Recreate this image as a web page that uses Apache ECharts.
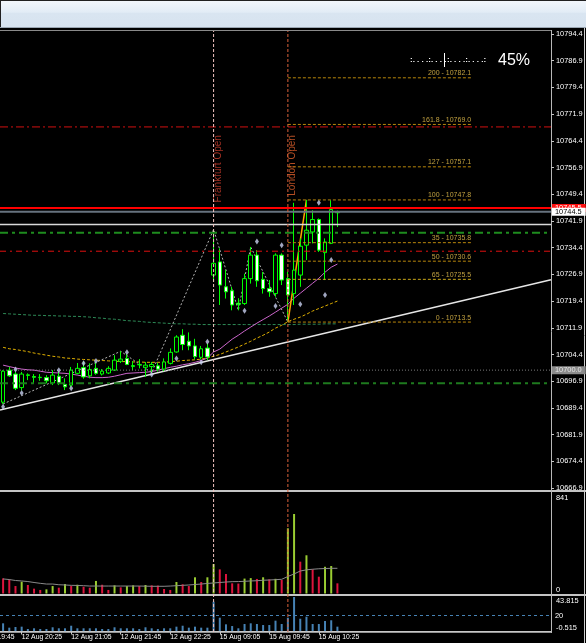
<!DOCTYPE html>
<html><head><meta charset="utf-8">
<script src="https://cdn.jsdelivr.net/npm/echarts@6/dist/echarts.min.js"></script>
<style>html,body{margin:0;padding:0;background:#000;overflow:hidden}#c{width:586px;height:643px;}</style>
</head><body><div id="c"></div>
<script>
// ---------------- DATA ----------------
const barTimes = [
 '12 Aug 20:10','12 Aug 20:15','12 Aug 20:20','12 Aug 20:25','12 Aug 20:30','12 Aug 20:35','12 Aug 20:40','12 Aug 20:45','12 Aug 20:50','12 Aug 20:55',
 '12 Aug 21:00','12 Aug 21:05','12 Aug 21:10','12 Aug 21:15','12 Aug 21:20','12 Aug 21:25','12 Aug 21:30','12 Aug 21:35','12 Aug 21:40','12 Aug 21:45',
 '12 Aug 21:50','12 Aug 21:55','12 Aug 22:00','12 Aug 22:05','12 Aug 22:10','12 Aug 22:15','12 Aug 22:20','12 Aug 22:25','12 Aug 22:30','12 Aug 22:35',
 '12 Aug 22:40','12 Aug 22:45','12 Aug 22:50','12 Aug 22:55',
 '15 Aug 09:00','15 Aug 09:05','15 Aug 09:10','15 Aug 09:15','15 Aug 09:20','15 Aug 09:25','15 Aug 09:30','15 Aug 09:35','15 Aug 09:40','15 Aug 09:45',
 '15 Aug 09:50','15 Aug 09:55','15 Aug 10:00','15 Aug 10:05','15 Aug 10:10','15 Aug 10:15','15 Aug 10:20','15 Aug 10:25','15 Aug 10:30','15 Aug 10:35','15 Aug 10:40'
];
const emptySlots = 34;   // empty space to the right of the last bar
const openP  = [10691.0,10700.0,10698.9,10695.1,10698.5,10698.2,10697.9,10697.9,10696.4,10698.3,
 10696.0,10695.8,10699.1,10700.7,10698.4,10700.5,10698.9,10699.2,10700.0,10702.5,
 10703.3,10701.0,10701.6,10700.8,10701.0,10701.2,10700.3,10701.9,10705.1,10709.8,
 10708.1,10706.8,10703.6,10706.2,10726.7,10730.4,10723.4,10722.3,10718.8,10718.7,
 10725.7,10732.3,10725.5,10722.9,10721.5,10732.3,10725.7,10721.5,10726.7,10735.1,
 10738.8,10742.3,10733.0,10735.6,10744.2];
const highP  = [10700.0,10700.9,10699.5,10699.5,10699.1,10698.9,10698.9,10698.6,10700.0,10699.6,
 10697.7,10700.9,10702.0,10702.5,10701.9,10702.2,10700.3,10701.1,10704.2,10705.3,
 10704.5,10702.5,10703.1,10702.3,10702.3,10702.0,10703.3,10706.1,10709.8,10711.5,
 10710.6,10708.8,10706.8,10707.5,10739.5,10734.2,10728.1,10723.4,10720.2,10727.1,
 10734.6,10733.7,10727.6,10725.3,10732.8,10732.8,10727.6,10747.0,10737.0,10747.8,
 10744.9,10742.6,10737.0,10747.7,10744.8];
const lowP   = [10690.5,10698.1,10694.4,10694.3,10697.2,10696.3,10697.0,10696.3,10695.8,10695.8,
 10694.4,10695.3,10698.8,10697.6,10697.7,10698.7,10698.5,10698.9,10699.8,10702.0,
 10701.4,10700.0,10700.5,10698.1,10699.3,10699.6,10699.7,10701.6,10704.9,10705.6,
 10705.6,10703.0,10703.0,10702.8,10724.8,10718.3,10720.1,10716.8,10716.8,10718.3,
 10724.3,10723.4,10721.5,10720.6,10720.6,10723.9,10713.5,10718.3,10723.4,10730.9,
 10735.6,10733.2,10725.3,10735.4,10740.2];
const closeP = [10699.7,10698.4,10694.9,10698.9,10698.7,10698.0,10698.0,10697.0,10698.6,10696.3,
 10695.3,10700.0,10700.5,10698.1,10700.2,10699.1,10699.7,10700.5,10702.8,10703.1,
 10701.6,10701.3,10701.5,10701.4,10701.6,10700.3,10702.3,10705.0,10709.3,10707.2,
 10706.8,10703.8,10706.0,10703.7,10730.0,10723.9,10722.0,10718.3,10718.5,10725.7,
 10732.3,10725.1,10722.9,10722.0,10732.3,10725.3,10721.1,10728.1,10734.8,10739.3,
 10742.3,10733.7,10736.0,10745.1,10744.5];
const maViolet = [10701.4,10701.0,10700.6,10700.3,10700.1,10700.0,10699.7,10699.4,10699.3,10699.2,
 10699.1,10698.9,10698.6,10698.3,10698.0,10697.9,10697.9,10698.0,10698.3,10698.7,
 10699.1,10699.2,10699.3,10699.4,10699.6,10700.0,10700.4,10700.8,10701.1,10701.5,
 10701.8,10702.2,10702.7,10703.4,10705.1,10705.9,10707.3,10708.7,10709.8,10711.0,
 10712.1,10713.2,10714.2,10715.2,10716.3,10717.4,10718.5,10720.2,10721.6,10723.0,
 10724.4,10725.8,10727.5,10728.9,10729.8];
const maYellow = [10706.4,10706.0,10705.8,10705.5,10705.2,10704.8,10704.5,10704.2,10703.9,10703.7,
 10703.4,10703.3,10703.1,10703.0,10702.9,10702.8,10702.7,10702.6,10702.5,10702.4,
 10702.4,10702.3,10702.3,10702.2,10702.2,10702.2,10702.2,10702.4,10702.5,10702.7,
 10702.8,10702.9,10703.1,10703.4,10703.9,10704.4,10705.1,10705.8,10706.5,10707.3,
 10708.1,10709.0,10709.8,10710.7,10711.8,10712.6,10713.6,10714.3,10714.9,10715.7,
 10716.6,10717.3,10718.0,10718.7,10719.4];
const maGreen = [10715.9,10715.8,10715.7,10715.6,10715.5,10715.4,10715.4,10715.3,10715.3,10715.2,
 10715.2,10715.1,10715.1,10715.0,10714.9,10714.7,10714.6,10714.4,10714.3,10714.1,
 10713.9,10713.8,10713.7,10713.5,10713.4,10713.3,10713.2,10713.1,10713.0,10713.0,
 10712.9,10712.9,10712.8,10712.8,10712.8,10712.8,10712.8,10712.8,10712.8,10712.8,
 10712.8,10712.8,10712.8,10712.8,10712.8,10712.8,10712.8,10712.8,10712.9,10712.9,
 10712.9,10712.9,10713.0,10713.0,10713.0];
const volume = [128,120,63,100,72,41,30,35,63,49, 80,63,74,57,49,106,74,30,69,52,
 63,69,63,72,69,67,38,30,97,78, 63,137,97,137,249,204,165,86,84,126,
 130,123,137,120,124,114,551,672,269,323, 204,142,226,232,86];
const volumeMA = [123,118,110,106,101,93,86,80,80,74, 72,69,68,66,63,63,63,63,63,63,
 63,63,63,62,61,61,61,63,66,69, 72,76,80,85,89,93,97,100,101,103,
 106,108,112,114,117,120,144,165,190,200, 205,209,211,213,213];
const histo = [10.0,4.4,5.3,5.7,2.7,3.6,2.7,2.7,4.9,3.6, 3.6,6.9,3.6,3.6,3.6,3.6,2.7,2.7,4.9,3.6,
 3.6,3.6,2.7,4.9,3.6,2.7,3.6,3.6,5.7,6.9, 4.4,5.7,4.4,4.4,37.8,17.2,8.7,6.5,3.6,9.1,
 10.0,9.1,7.8,7.8,13.4,9.1,17.2,43.8,15.9,18.5, 9.1,9.1,13.0,13.9,5.7];

const priceTickMin = 10666.9, priceTickMax = 10794.4, priceTickStep = 7.5;
const volumeRange = [0, 841];
const histoRange = [-0.515, 43.815];
const histoLevel = 20;
const tickLabels = ['12 Aug 20:25','12 Aug 21:05','12 Aug 21:45','12 Aug 22:25','15 Aug 09:05','15 Aug 09:45','15 Aug 10:25'];
const leadingTickBar = -5, leadingTickLabel = '12 Aug 19:45';

const zigzagBars   = [0, 19, 24, 34, 38, 40, 46];
const zigzagPrices = [10690.5, 10705.3, 10699.3, 10739.5, 10716.8, 10734.6, 10713.5];
const swingBars    = [46, 49];
const swingPrices  = [10713.5, 10747.8];
const trendBars    = [-0.5, 88.5];
const trendPrices  = [10688.8, 10725.4];

const fibLevels = ['200','161.8','127','100','35','50','65','0'];
const fibPrices = [10782.1, 10769.0, 10757.1, 10747.8, 10735.8, 10730.6, 10725.5, 10713.5];
const fibFromBar = 46, fibToBar = 75.6;

const hLinePrices = [10768.3, 10745.5, 10744.5, 10740.9, 10738.6, 10733.4, 10700.0, 10696.3];

const fractalBars   = [0,2,3,9,11,13,15,20,24,28,32,33,39,41,44,45,48,51,52,53];
const fractalPrices = [10689.7,10700.2,10693.6,10700.0,10694.9,10701.9,10702.6,10705.0,10698.8,10703.3,
 10702.2,10708.0,10716.7,10736.1,10718.0,10735.1,10718.5,10747.0,10721.1,10730.9];

const sessionBars  = [34, 46];
const sessionNames = ['Frankfurt Open', 'London Open'];
const timerText = '45%';

// ---------------- STYLE / LAYOUT ----------------
const FONT = "'Liberation Sans',Arial,sans-serif";
const FS = 7.4;     // price / panel labels
const FSX = 6.8;    // time labels
const FSF = 7;      // fibo labels
const slots = barTimes.length + emptySlots;
const cats = barTimes.concat(new Array(emptySlots).fill(''));
const vMin = -0.5, vMax = slots - 0.5;
const sessionLabelPrice = 10766.0;

const hLineStyles = [
  {color:'#d01010', width:1, type:[8,3,2,3]},
  {color:'#ff0000', width:2, type:'solid', label:{bg:'#ff1010', fg:'#ffffff'}},
  {color:'#66727e', width:2, type:'solid', label:{bg:'#ffffff', fg:'#000000'}},
  {color:'#d8d8d8', width:1.5, type:'solid'},
  {color:'#1e8c1e', width:2, type:[8,4,3,4]},
  {color:'#e01010', width:1, type:[6,4,2,4]},
  {color:'#7a7a7a', width:1, type:[1,2], label:{bg:'#8c8c8c', fg:'#e6e6e6'}},
  {color:'#1e7a1e', width:2, type:[8,4,3,4]}
];
const sessionColors = ['#f4c4c0', '#d8603a'];
const sessionTextColors = ['#cc3c2c', '#e0602c'];

const tickFn = (i, v) => tickLabels.indexOf(v) >= 0;

const series = [];
series.push({type:'line', xAxisIndex:0, yAxisIndex:0, data:maGreen, symbol:'none', silent:true,
  lineStyle:{color:'#2e8b57', width:1, type:[3,2]}, z:2});
series.push({type:'line', xAxisIndex:0, yAxisIndex:0, data:maYellow, symbol:'none', silent:true,
  lineStyle:{color:'#e0b000', width:1, type:[3,2]}, z:2});
series.push({type:'line', xAxisIndex:0, yAxisIndex:0, data:maViolet, symbol:'none', silent:true,
  lineStyle:{color:'#cc66cc', width:1}, z:2});
series.push({type:'line', xAxisIndex:1, yAxisIndex:0, data:trendBars.map((b,i)=>[b,trendPrices[i]]),
  symbol:'none', silent:true, lineStyle:{color:'#e6e6e6', width:1.5}, z:3});
series.push({type:'line', xAxisIndex:1, yAxisIndex:0, data:zigzagBars.map((b,i)=>[b,zigzagPrices[i]]),
  symbol:'none', silent:true, lineStyle:{color:'#b4b4b4', width:1, type:[2,2]}, z:3});
series.push({type:'line', xAxisIndex:1, yAxisIndex:0, data:swingBars.map((b,i)=>[b,swingPrices[i]]),
  symbol:'none', silent:true, lineStyle:{color:'#ffa500', width:1.5}, z:3});
series.push({type:'candlestick', xAxisIndex:0, yAxisIndex:0, barWidth:4, silent:true,
  data: barTimes.map((t,i)=>[openP[i], closeP[i], lowP[i], highP[i]]),
  itemStyle:{color:'#000000', color0:'#ffffff', borderColor:'#00ff00', borderColor0:'#00ff00', borderWidth:1}, z:4});
fibLevels.forEach((lvl, k) => {
  const p = fibPrices[k];
  series.push({type:'line', xAxisIndex:1, yAxisIndex:0, silent:true, symbol:'circle', symbolSize:0, showSymbol:true,
    data:[[fibFromBar,p], {value:[fibToBar,p], label:{show:true, position:'top', align:'right', distance:1,
      formatter: lvl + ' - ' + p.toFixed(1), color:'#c0a040', fontSize:FSF, fontFamily:FONT}}],
    lineStyle:{color: lvl==='65' ? '#c9a81a' : '#b8860b', width:1, type:[3,2]}, z:5});
});
hLinePrices.forEach((p, k) => {
  const st = hLineStyles[k];
  const s = {type:'line', xAxisIndex:1, yAxisIndex:0, silent:true, symbol:'none',
    data:[[vMin,p],[vMax,p]], lineStyle:{color:st.color, width:st.width, type:st.type}, z:6 + k*0.01};
  if (st.label) {
    s.endLabel = {show:true, formatter: p.toFixed(1), backgroundColor: st.label.bg, color: st.label.fg,
      padding:[1,4,0,3], fontSize:FS, fontFamily:FONT, distance:1};
  }
  series.push(s);
});
series.push({type:'scatter', xAxisIndex:1, yAxisIndex:0, silent:true, symbol:'diamond', symbolSize:[4,6],
  data: fractalBars.map((b,i)=>[b, fractalPrices[i]]), itemStyle:{color:'#c8d0f0'}, z:7});
sessionBars.forEach((b, k) => {
  series.push({type:'scatter', xAxisIndex:1, yAxisIndex:0, silent:true, symbolSize:0,
    data:[[b, sessionLabelPrice]],
    label:{show:true, formatter: sessionNames[k], rotate:90, align:'right', verticalAlign:'middle',
      position:[4.5,0], color: sessionTextColors[k], fontSize:10, fontFamily:FONT}, z:8});
});
sessionBars.forEach((b, k) => {
  series.push({type:'line', xAxisIndex:4, yAxisIndex:5, silent:true, symbol:'none',
    data:[[b,0],[b,1]], lineStyle:{color:sessionColors[k], width:1, type:[3,2]}, z:9});
});
series.push({type:'bar', xAxisIndex:2, yAxisIndex:1, barWidth:2, silent:true,
  data: volume.map((v,i)=>({value:v, itemStyle:{color: (i>0 && v>volume[i-1]) ? '#9acd32' : '#dc143c'}}))});
series.push({type:'line', xAxisIndex:2, yAxisIndex:1, data:volumeMA, symbol:'none', silent:true,
  lineStyle:{color:'#8a8a8a', width:1}});
series.push({type:'bar', xAxisIndex:3, yAxisIndex:3, barWidth:2, silent:true, data:histo,
  itemStyle:{color:'#4682b4'},
  markLine:{symbol:'none', silent:true, data:[{yAxis:histoLevel}], lineStyle:{color:'#4682b4', type:[3,3], width:1},
    label:{position:'end', formatter:String(histoLevel), color:'#ffffff', fontSize:FS, fontFamily:FONT, distance:4}}});

const axisLbl = {color:'#ffffff', fontSize:FS, fontFamily:FONT};
const noLine = {show:false, onZero:false};
const option = {
  animation:false,
  backgroundColor:'#000000',
  grid:[
    {left:0, top:34, width:551, height:454, outerBoundsMode:'none'},
    {left:0, top:494, width:551, height:99.5, outerBoundsMode:'none'},
    {left:0, top:597, width:551, height:34.5, outerBoundsMode:'none'},
    {left:0, top:31, width:551, height:601, outerBoundsMode:'none'}
  ],
  xAxis:[
    {type:'category', gridIndex:0, data:cats, show:false, axisLine:noLine},
    {type:'value', gridIndex:0, min:vMin, max:vMax, show:false, axisLine:noLine},
    {type:'category', gridIndex:1, data:cats, show:false, axisLine:noLine},
    {type:'category', gridIndex:2, data:cats, position:'bottom',
      axisLine:{show:true, onZero:false, lineStyle:{color:'#c8c8c8'}},
      axisTick:{show:true, alignWithLabel:true, interval:tickFn, length:3, lineStyle:{color:'#c8c8c8'}},
      axisLabel:{interval:tickFn, align:'left', margin:2, hideOverlap:false, color:'#ffffff', fontSize:FSX, fontFamily:FONT}},
    {type:'value', gridIndex:3, min:vMin, max:vMax, show:false, axisLine:noLine}
  ],
  yAxis:[
    {type:'value', gridIndex:0, position:'right', min:priceTickMin, max:priceTickMax, interval:priceTickStep,
      axisLine:noLine, splitLine:{show:false},
      axisTick:{show:true, length:3, lineStyle:{color:'#c8c8c8'}},
      axisLabel:Object.assign({margin:5, hideOverlap:false, formatter:v=>v.toFixed(1)}, axisLbl)},
    {type:'value', gridIndex:1, position:'right', min:volumeRange[0], max:volumeRange[1], interval:volumeRange[1]-volumeRange[0],
      axisLine:noLine, splitLine:{show:false}, axisTick:{show:false},
      axisLabel:Object.assign({margin:5, verticalAlign:'top', formatter:v=> v>=volumeRange[1]-1 ? String(volumeRange[1]) : ''}, axisLbl)},
    {type:'value', gridIndex:1, position:'right', min:volumeRange[0], max:volumeRange[1], interval:volumeRange[1]-volumeRange[0],
      axisLine:noLine, splitLine:{show:false}, axisTick:{show:false},
      axisLabel:Object.assign({margin:5, verticalAlign:'bottom', formatter:v=> v<=volumeRange[0]+1 ? String(volumeRange[0]) : ''}, axisLbl)},
    {type:'value', gridIndex:2, position:'right', min:histoRange[0], max:histoRange[1], interval:(histoRange[1]-histoRange[0])*0.99999,
      axisLine:noLine, splitLine:{show:false}, axisTick:{show:false},
      axisLabel:Object.assign({margin:5, verticalAlign:'top', formatter:v=> v>histoRange[1]-1 ? histoRange[1].toFixed(3) : ''}, axisLbl)},
    {type:'value', gridIndex:2, position:'right', min:histoRange[0], max:histoRange[1], interval:(histoRange[1]-histoRange[0])*0.99999,
      axisLine:noLine, splitLine:{show:false}, axisTick:{show:false},
      axisLabel:Object.assign({margin:5, verticalAlign:'bottom', formatter:v=> v<histoRange[0]+1 ? histoRange[0].toFixed(3) : ''}, axisLbl)},
    {type:'value', gridIndex:3, min:0, max:1, show:false, axisLine:noLine}
  ],
  series: series,
  graphic:[
    {type:'rect', id:'hdr', shape:{x:0,y:0,width:586,height:27}, silent:true,
      style:{fill:new echarts.graphic.LinearGradient(0,0,0,1,[{offset:0,color:'#f3f7fc'},{offset:0.45,color:'#e2ecf6'},{offset:0.5,color:'#d9e5f1'},{offset:1,color:'#d7e3ef'}])}},
    {type:'line', id:'hdrl', shape:{x1:0,y1:27.5,x2:586,y2:27.5}, style:{stroke:'#9aa6b2', lineWidth:1}, silent:true},
    {type:'line', id:'bl', shape:{x1:0.5,y1:0,x2:0.5,y2:27}, style:{stroke:'#202020', lineWidth:1}, silent:true},
    {type:'line', id:'bt', shape:{x1:0,y1:0.5,x2:586,y2:0.5}, style:{stroke:'#202020', lineWidth:1}, silent:true},
    {type:'line', id:'ptop', shape:{x1:0,y1:30.5,x2:552,y2:30.5}, style:{stroke:'#8a8a8a', lineWidth:1}, silent:true},
    {type:'line', id:'sep1', shape:{x1:0,y1:491,x2:586,y2:491}, style:{stroke:'#c4c4c4', lineWidth:2}, silent:true},
    {type:'line', id:'sep2', shape:{x1:0,y1:595,x2:586,y2:595}, style:{stroke:'#c4c4c4', lineWidth:2}, silent:true},
    {type:'line', id:'sep3', shape:{x1:0,y1:632,x2:552,y2:632}, style:{stroke:'#c4c4c4', lineWidth:1.5}, silent:true},
    {type:'line', id:'vax', shape:{x1:551.5,y1:30,x2:551.5,y2:633}, style:{stroke:'#b8b8b8', lineWidth:1}, silent:true},
    {type:'line', id:'rb', shape:{x1:584.5,y1:28,x2:584.5,y2:643}, style:{stroke:'#d0d0d0', lineWidth:1}, silent:true},
    {type:'text', id:'tdl', x:410, y:60, silent:true, style:{text:':. . . .:. . . .', fill:'#ffffff', font:'bold 8px '+FONT, verticalAlign:'middle'}},
    {type:'line', id:'tbar', shape:{x1:444.5,y1:53,x2:444.5,y2:67}, style:{stroke:'#ffffff', lineWidth:1}, silent:true},
    {type:'text', id:'tdr', x:447, y:60, silent:true, style:{text:':. . . .:. . . .:', fill:'#ffffff', font:'bold 8px '+FONT, verticalAlign:'middle'}},
    {type:'text', id:'tpc', x:498, y:61, silent:true, style:{text:timerText, fill:'#ffffff', font:"16px 'Liberation Sans',Arial,sans-serif", verticalAlign:'middle'}}
  ]
};
const chart = echarts.init(document.getElementById('c'), null, {renderer:'canvas'});
chart.setOption(option);
const lx = chart.convertToPixel({xAxisIndex:4}, leadingTickBar);
chart.setOption({graphic:[
  {type:'text', id:'lead', x:lx + 2, y:637.5, silent:true, style:{text:leadingTickLabel, fill:'#ffffff', font:FSX+'px '+FONT, verticalAlign:'middle'}}
]});
</script>
</body></html>
